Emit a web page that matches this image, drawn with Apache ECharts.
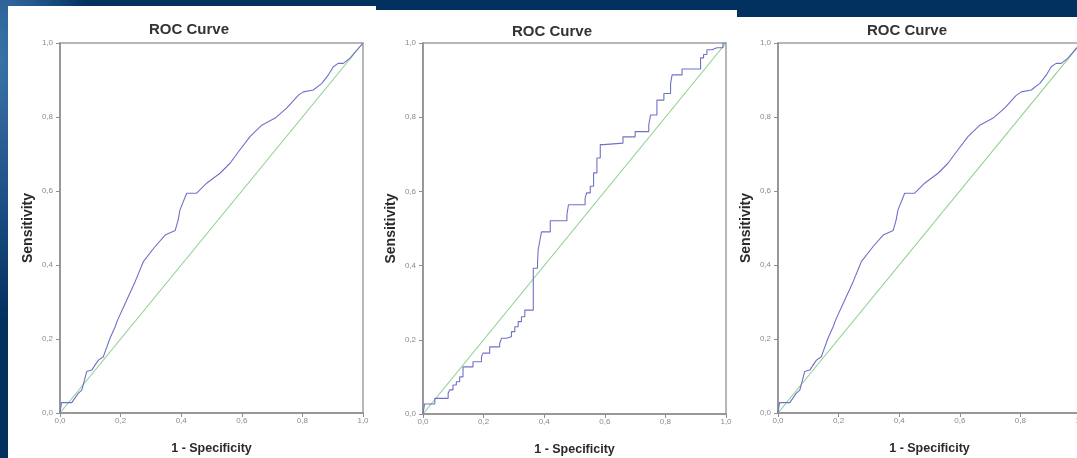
<!DOCTYPE html>
<html>
<head>
<meta charset="utf-8">
<script src="https://cdn.jsdelivr.net/npm/echarts@6.0.0/dist/echarts.min.js"></script>
<style>
  html, body { margin: 0; padding: 0; }
  body {
    width: 1077px; height: 458px; overflow: hidden; position: relative;
    background:
      radial-gradient(ellipse 90px 260px at 0 60px, #3a72a8 0%, #22568c 45%, rgba(2,48,95,0) 100%),
      #02305f;
  }
  .panel { position: absolute; background: #fff; }
  #chart { position: absolute; left: 0; top: 0; width: 1077px; height: 458px; }
</style>
</head>
<body>
<!-- white slide panels behind the three ROC plots -->
<div class="panel" style="left:8px;top:6px;width:368px;height:452px"></div>
<div class="panel" style="left:376px;top:10px;width:361px;height:448px"></div>
<div class="panel" style="left:737px;top:17px;width:340px;height:441px"></div>
<div id="chart"></div>

<script>
// ---- data ----
const titles = ['ROC Curve', 'ROC Curve', 'ROC Curve'];
const xName = '1 - Specificity';
const yName = 'Sensitivity';

// panel 1 and panel 3 show the same curve
const curveAX = [0, 0.005, 0.039, 0.06, 0.072, 0.088, 0.105, 0.116, 0.127, 0.143, 0.149, 0.165, 0.182, 0.19, 0.215, 0.248, 0.275, 0.314, 0.347, 0.38, 0.39, 0.396, 0.418, 0.451, 0.484, 0.528, 0.561, 0.589, 0.627, 0.666, 0.71, 0.748, 0.787, 0.803, 0.836, 0.864, 0.886, 0.902, 0.918, 0.935, 0.957, 1];
const curveAY = [0, 0.028, 0.028, 0.053, 0.062, 0.112, 0.116, 0.13, 0.143, 0.152, 0.166, 0.202, 0.233, 0.251, 0.296, 0.355, 0.409, 0.45, 0.481, 0.493, 0.522, 0.549, 0.594, 0.594, 0.621, 0.648, 0.675, 0.706, 0.747, 0.778, 0.797, 0.824, 0.859, 0.868, 0.873, 0.891, 0.914, 0.936, 0.945, 0.945, 0.959, 1];

// panel 2 staircase
const curveBX = [0, 0.005, 0.005, 0.039, 0.039, 0.083, 0.088, 0.099, 0.11, 0.121, 0.132, 0.138, 0.165, 0.176, 0.193, 0.198, 0.22, 0.226, 0.253, 0.259, 0.275, 0.292, 0.303, 0.314, 0.325, 0.336, 0.342, 0.364, 0.364, 0.378, 0.38, 0.386, 0.391, 0.392, 0.42, 0.42, 0.475, 0.48, 0.502, 0.535, 0.54, 0.552, 0.563, 0.574, 0.585, 0.596, 0.6, 0.66, 0.662, 0.7, 0.706, 0.745, 0.751, 0.756, 0.772, 0.778, 0.795, 0.8, 0.817, 0.822, 0.827, 0.855, 0.86, 0.916, 0.926, 0.937, 0.954, 0.97, 0.99, 0.99, 1];
const curveBY = [0, 0, 0.027, 0.027, 0.042, 0.042, 0.056, 0.065, 0.078, 0.087, 0.1, 0.127, 0.127, 0.141, 0.141, 0.154, 0.164, 0.181, 0.181, 0.19, 0.204, 0.208, 0.222, 0.235, 0.249, 0.262, 0.28, 0.28, 0.393, 0.393, 0.406, 0.442, 0.469, 0.491, 0.491, 0.521, 0.521, 0.537, 0.564, 0.564, 0.582, 0.596, 0.614, 0.65, 0.69, 0.726, 0.73, 0.73, 0.747, 0.747, 0.761, 0.761, 0.779, 0.806, 0.806, 0.846, 0.846, 0.864, 0.864, 0.89, 0.914, 0.914, 0.93, 0.93, 0.96, 0.969, 0.982, 0.987, 0.987, 1, 1];

// reference diagonal
const refX = [0, 1];
const refY = [0, 1];

// ---- layout of the three plots ----
const grids = [
  { left: 60, top: 43, width: 303, height: 370 },
  { left: 423, top: 43, width: 303, height: 371 },
  { left: 778, top: 43, width: 303, height: 370 }
];
const titlePos = [[189, 22], [552, 24], [907, 23]];

const pairs = (xs, ys) => xs.map((x, i) => [x, ys[i]]);
const fmt = v => v.toFixed(1).replace('.', ',');

const axisGray = '#8e8e8e';
const axisBase = {
  type: 'value', min: 0, max: 1, interval: 0.2,
  nameLocation: 'middle',
  nameTextStyle: { color: '#2a2a2a', fontWeight: 'bold', fontFamily: 'Liberation Sans, Arial, sans-serif' },
  axisLine: { show: true, onZero: false, lineStyle: { color: axisGray, width: 1.5 } },
  axisTick: { show: true, inside: false, length: 4, lineStyle: { color: axisGray, width: 1 } },
  axisLabel: { formatter: fmt, fontSize: 8, color: '#8a8a8a', fontFamily: 'Liberation Sans, Arial, sans-serif' },
  splitLine: { show: false }
};

const curves = [pairs(curveAX, curveAY), pairs(curveBX, curveBY), pairs(curveAX, curveAY)];

const option = {
  backgroundColor: 'transparent',
  animation: false,
  title: titles.map((t, i) => ({
    text: t,
    left: titlePos[i][0],
    top: titlePos[i][1],
    textAlign: 'center',
    padding: 0,
    textStyle: { fontSize: 15, fontWeight: 'bold', color: '#333', fontFamily: 'Liberation Sans, Arial, sans-serif' }
  })),
  grid: grids.map(g => Object.assign({
    show: true, borderColor: '#a0a0a0', borderWidth: 1.5,
    backgroundColor: 'transparent', containLabel: false, outerBoundsMode: 'none'
  }, g)),
  xAxis: grids.map((g, i) => Object.assign({}, axisBase, {
    gridIndex: i,
    name: xName,
    nameGap: 29,
    nameTextStyle: Object.assign({}, axisBase.nameTextStyle, { fontSize: 12.5 }),
    axisLabel: Object.assign({}, axisBase.axisLabel, { margin: 4 })
  })),
  yAxis: grids.map((g, i) => Object.assign({}, axisBase, {
    gridIndex: i,
    name: yName,
    nameGap: 25,
    nameRotate: 90,
    nameTextStyle: Object.assign({}, axisBase.nameTextStyle, { fontSize: 14 }),
    axisLabel: Object.assign({}, axisBase.axisLabel, { margin: 7 })
  })),
  series: []
};

curves.forEach((c, i) => {
  option.series.push({
    type: 'line',
    xAxisIndex: i, yAxisIndex: i,
    data: pairs(refX, refY),
    showSymbol: false,
    lineStyle: { color: '#8fcf8f', width: 1.1 },
    z: 2
  });
  option.series.push({
    type: 'line',
    xAxisIndex: i, yAxisIndex: i,
    data: c,
    step: i === 1 ? 'start' : false,
    showSymbol: false,
    lineStyle: { color: '#7070c8', width: 1.1 },
    z: 3
  });
});

const myChart = echarts.init(document.getElementById('chart'), null, { renderer: 'canvas' });
myChart.setOption(option);
</script>
</body>
</html>
